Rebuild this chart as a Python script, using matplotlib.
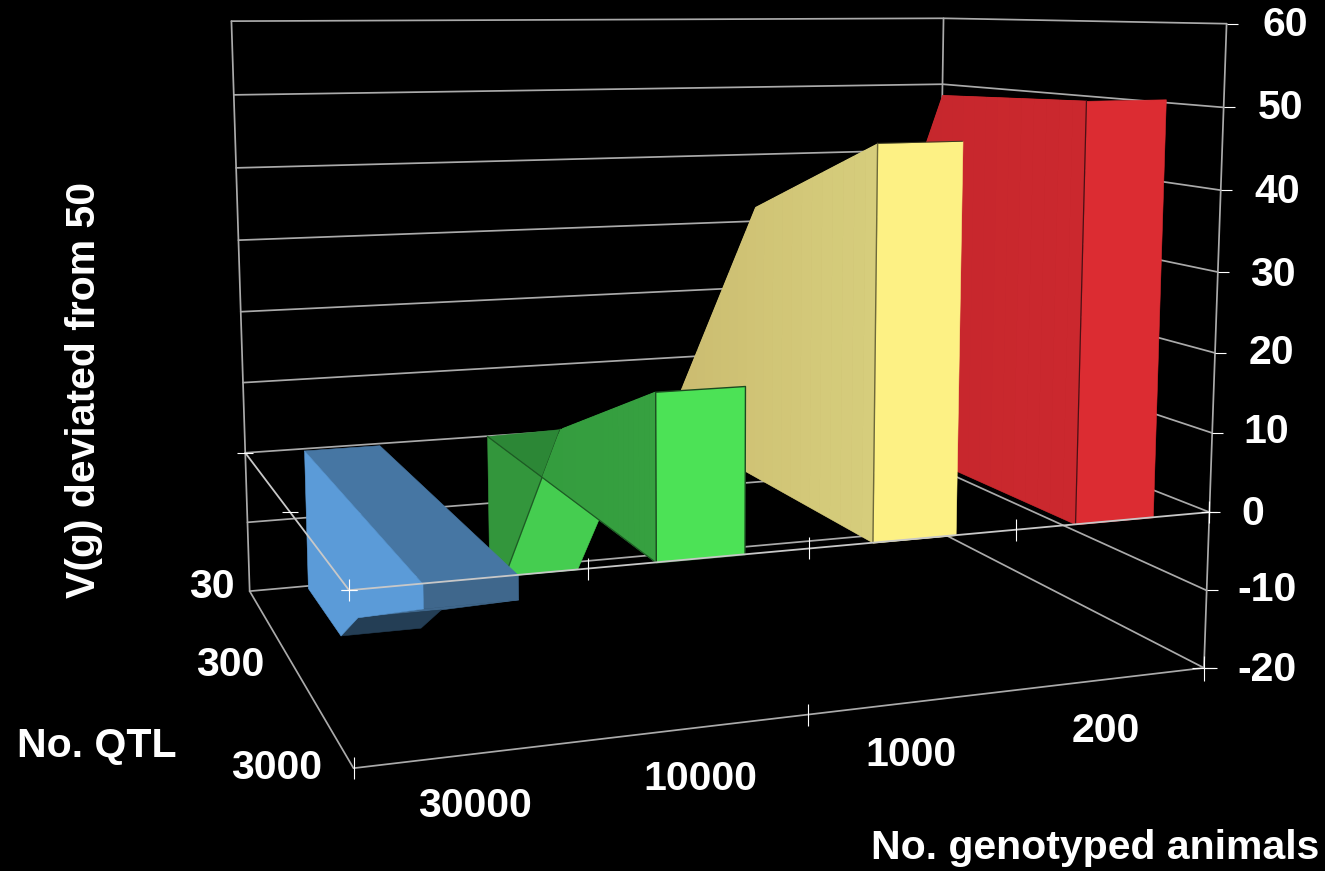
import numpy as np
import matplotlib
matplotlib.use('Agg')
import matplotlib.pyplot as plt
from mpl_toolkits.mplot3d.art3d import Poly3DCollection

plt.rcParams['font.family'] = ['Liberation Sans', 'DejaVu Sans']

# position on the QTL axis: 3000 in front (0), 300 (1), 30 at the back (2)
animal_labels = ['30000', '10000', '1000', '200']
qtl_labels = ['3000', '300', '30']
z_ticks = [-20, -10, 0, 10, 20, 30, 40, 50, 60]

# V(g) deviation per no. of QTL (3000, 300, 30)
v_30000 = [-2.8, -14.2, -20.0]
v_10000 = [19.6, 8.2, -18.6]
v_1000 = [46.7, 36.0, -2.0]
v_200 = [51.1, 50.2, -3.0]

# the low series hit the floor of the box before the back of the axis
y_30000 = [0, 1, 1.32, 1.97]
y_10000 = [0, 1, 1.76]
y_all = [0, 1, 2]

bar_lo = 0.3
bar_hi = 0.7

GRID = '#aaaaaa'
W = 1325
H = 871
SCALE, CX, CY = 6192.887, 697.452, 331.056


def px_text(x, y, s, size=29.5, **kw):
    fig.text(x / W, 1 - y / H, s, color='white', fontweight='bold', fontsize=size,
             ha='center', va='center', **kw)


def line(xs, ys, zs, color=GRID, lw=1.25, z=1, **kw):
    ax.plot(xs, ys, zs, color=color, lw=lw, zorder=z, solid_capstyle='round', **kw)


def poly(verts, color, z, edge=None, lw=0.0):
    col = Poly3DCollection([verts], facecolors=color, edgecolors=edge if edge else color,
                           linewidths=lw if edge else 0.4)
    col.set_zorder(z)
    ax.add_collection3d(col)


def shaded_side(x, ys, zs, back_col, front_col, z):
    # long side of a ribbon, a bit darker towards the back
    a = np.array(matplotlib.colors.to_rgb(back_col))
    b = np.array(matplotlib.colors.to_rgb(front_col))
    outline = [(x, ys[0], 0), (x, ys[-1], 0)] + [(x, yy, zz) for yy, zz in zip(ys[::-1], zs[::-1])]
    poly(outline, (a + b) / 2, z)
    cuts = np.linspace(ys[0], ys[-1], 25)
    top = np.interp(cuts, ys, zs)
    verts, cols = [], []
    for i in range(len(cuts) - 1):
        verts.append([(x, cuts[i], 0), (x, cuts[i + 1], 0), (x, cuts[i + 1], top[i + 1]), (x, cuts[i], top[i])])
        t = 1 - (cuts[i] - ys[0]) / (ys[-1] - ys[0])
        cols.append(a + (b - a) * t)
    col = Poly3DCollection(verts, facecolors=cols, edgecolors='none', linewidths=0)
    col.set_zorder(z)
    ax.add_collection3d(col)


fig = plt.figure(figsize=(13.25, 8.71), dpi=100, facecolor='black')
size = SCALE * 0.185
ax = fig.add_axes([(CX - SCALE * 0.095) / W, 1 - (CY + SCALE * 0.095) / H, size / W, size / H],
                  projection='3d', computed_zorder=False)
ax.set_facecolor('black')
ax.set_xlim(0, 4)
ax.set_ylim(0, 2)
ax.set_zlim(-20, 60)
ax.view_init(elev=8.6164, azim=-109.6795, roll=0.0327)
ax.set_proj_type('persp', focal_length=0.355)
ax.set_box_aspect((1.3943, 1, 1.0394))
ax.set_axis_off()

# box: back walls, floor and the plane at zero
for zt in z_ticks:
    line([0, 4, 4], [2, 2, 0], [zt, zt, zt])
line([0, 0], [2, 2], [-20, 60])
line([4, 4], [2, 2], [-20, 60])
line([4, 4], [0, 0], [-20, 60])
line([0, 0, 4], [2, 0, 0], [-20, -20, -20])

# 200
shaded_side(3 + bar_lo, y_all, v_200, '#c2262b', '#cb282e', 2)
poly([(3 + bar_lo, 0, 0), (3 + bar_hi, 0, 0), (3 + bar_hi, 0, v_200[0]), (3 + bar_lo, 0, v_200[0])], '#dc2c32', 3)
line([3 + bar_lo] * 2, [0, 0], [0, v_200[0]], color='#4a1015', lw=0.9, z=3)

# 1000
shaded_side(2 + bar_lo, y_all, v_1000, '#c9b96e', '#d6cd7c', 4)
poly([(2 + bar_lo, 0, 0), (2 + bar_hi, 0, 0), (2 + bar_hi, 0, v_1000[0]), (2 + bar_lo, 0, v_1000[0])], '#fdf184', 5)
line([2 + bar_lo] * 2, [0, 0], [0, v_1000[0]], color='#6e6a3c', lw=1.0, z=5)
line([2 + bar_lo, 2 + bar_hi], [0, 0], [v_1000[0]] * 2, color='#3c3a20', lw=0.7, z=5)

# 10000: crosses zero between 300 and 30 QTL
x0, x1 = 1 + bar_lo, 1 + bar_hi
cross = 1 + v_10000[1] / (v_10000[1] - v_10000[2]) * (y_10000[2] - 1)
poly([(x0, 2, 0), (x0, cross, 0), (x0, y_10000[2], v_10000[2]), (x0, 2, v_10000[2])], '#33963c', 6)
poly([(x0, 2, 0), (x0, cross, 0), (x0, 1, v_10000[1])], '#2c8736', 7)
poly([(x0, 1, v_10000[1]), (x1, 1, v_10000[1]), (x1, y_10000[2], v_10000[2]), (x0, y_10000[2], v_10000[2])], '#45cd50', 7)
line([x0, x0], [2, cross], [0, 0], color='#1d5a24', lw=0.9, z=8)
line([x0, x0], [1, y_10000[2]], [v_10000[1], v_10000[2]], color='#1d5a24', lw=0.9, z=8)
shaded_side(x0, [0, 1, cross], [v_10000[0], v_10000[1], 0], '#349c3e', '#36a040', 9)
line([x0, x0], [0, cross], [0, 0], color='#1d5a24', lw=0.9, z=9)
poly([(x0, 0, 0), (x1, 0, 0), (x1, 0, v_10000[0]), (x0, 0, v_10000[0])], '#4ce256', 10, edge='#1c4a20', lw=1.0)

# 30000: hangs below zero
x0, x1 = bar_lo, bar_hi
poly([(x0, 0, 0), (x1, 0, 0), (x1, y_30000[3], 0), (x0, y_30000[3], 0)], '#4676a3', 11)
poly([(x0, 0, 0), (x1, 0, 0), (x1, 0, v_30000[0]), (x0, 0, v_30000[0])], '#3f678c', 12)
poly([(x0, 0, v_30000[0]), (x1, 0, v_30000[0]), (x1, 1, v_30000[1]), (x0, 1, v_30000[1])], '#3f678c', 12)
poly([(x0, 1, v_30000[1]), (x1, 1, v_30000[1]), (x1, y_30000[2], v_30000[2]), (x0, y_30000[2], v_30000[2])], '#243e55', 13)
poly([(x0, 0, 0), (x0, y_30000[3], 0), (x0, y_30000[3], v_30000[2]), (x0, y_30000[2], v_30000[2]),
      (x0, 1, v_30000[1]), (x0, 0, v_30000[0])], '#5b9bd8', 14)

# plane at zero sits in front of the ribbons
line([0, 0, 4], [2, 0, 0], [0, 0, 0], color='#c8c8c8', lw=1.3, z=20)

# tick marks
tick = dict(color='white', linestyle='none', zorder=21, markeredgewidth=0.8)
ax.plot([4] * 9, [0] * 9, z_ticks, marker=1, markersize=8, **tick)
ax.plot([1, 2, 3], [0, 0, 0], [0, 0, 0], marker='|', markersize=16, **tick)
ax.plot([0, 0], [0, 0], [0, -20], marker='|', markersize=16, **tick)
ax.plot([0, 0, 4], [0, 0, 0], [0, 0, 0], marker='_', markersize=11, **tick)
ax.plot([0, 0], [1, 2], [0, 0], marker='_', markersize=11, **tick)
ax.plot([2], [0], [-20], marker='|', markersize=16, **tick)
ax.plot([4], [0], [-20], marker='+', markersize=18, **tick)
ax.plot([4], [0], [0], marker='|', markersize=16, **tick)

ax.set_xlim(0, 4)
ax.set_ylim(0, 2)
ax.set_zlim(-20, 60)

z_text = [(1267, 670), (1267, 590), (1253, 514), (1266, 432), (1271, 353), (1273, 275), (1277, 192), (1281, 108), (1285, 25)]
for zt, (px, py) in zip(z_ticks, z_text):
    px_text(px, py, str(zt))
for lab, (px, py) in zip(animal_labels, [(475, 806), (700, 779), (911, 755), (1106, 731)]):
    px_text(px, py, lab)
for lab, (px, py) in zip(qtl_labels, [(277, 768), (230, 665), (212, 587)]):
    px_text(px, py, lab)
px_text(97, 746, 'No. QTL')
px_text(1095, 848, 'No. genotyped animals')
px_text(84, 390, 'V(g) deviated from 50', rotation=90)

fig.savefig('out.png', dpi=100, facecolor='black')
